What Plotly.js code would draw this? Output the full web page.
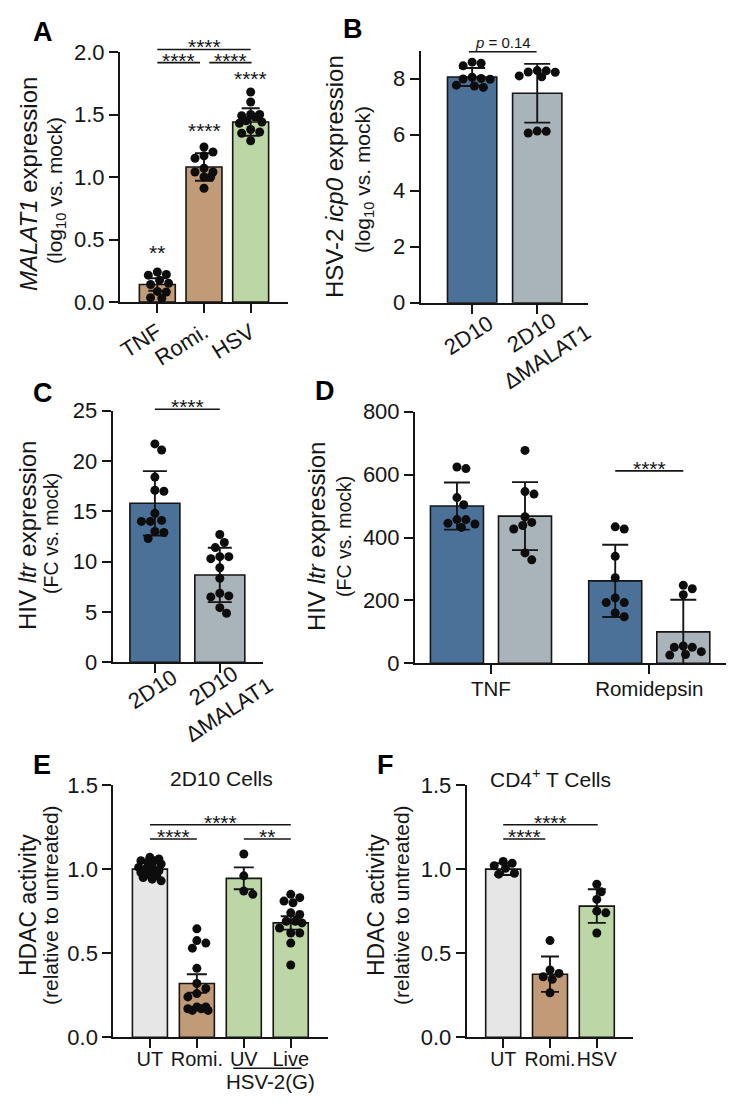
<!DOCTYPE html>
<html>
<head>
<meta charset="utf-8">
<script src="https://cdn.plot.ly/plotly-3.0.1.min.js"></script>
<style>body{margin:0;background:#fff}</style>
</head>
<body>
<div id="chart" style="width:745px;height:1107px"></div>
<script>
// ---------------- DATA ----------------
// Panel A: MALAT1 expression (log10 vs. mock)
const aCategories = ["TNF", "Romi.", "HSV"];
const aMeans = [0.14, 1.08, 1.44];
const aSD = [0.05, 0.11, 0.11];
const aTNF = [0.22, 0.215, 0.24, 0.175, 0.14, 0.15, 0.085, 0.08, 0.03, 0.035];
const aRomi = [1.20, 1.24, 1.17, 1.15, 1.07, 1.04, 1.04, 1.00, 1.00, 0.91];
const aHSV = [1.68, 1.60, 1.50, 1.50, 1.48, 1.49, 1.44, 1.43, 1.45, 1.38, 1.36, 1.35, 1.29];

// Panel B: HSV-2 icp0 expression
const bCategories = ["2D10", "2D10<br>ΔMALAT1"];
const bMeans = [8.06, 7.48];
const bSD = [0.32, 1.05];
const b2D10 = [8.55, 8.59, 8.46, 8.01, 8.05, 7.99, 7.98, 7.74, 7.77, 7.69];
const bDelta = [8.29, 8.23, 8.10, 8.07, 8.24, 8.28, 6.06, 6.13, 6.12];

// Panel C: HIV ltr expression (FC vs. mock)
const cCategories = ["2D10", "2D10<br>ΔMALAT1"];
const cMeans = [15.8, 8.68];
const cSD = [3.2, 2.7];
const c2D10 = [21.7, 21.1, 18.4, 17.1, 17.0, 14.8, 14.0, 14.1, 14.0, 13.0, 12.9, 12.3];
const cDelta = [12.7, 11.4, 11.9, 10.5, 10.5, 10.3, 9.4, 8.35, 6.86, 6.6, 6.5, 4.87, 5.43];

// Panel D: HIV ltr expression by treatment
const dGroups = ["TNF", "Romidepsin"];
const d2D10Means = [500, 262];
const d2D10SD = [75, 115];
const dDeltaMeans = [468, 100];
const dDeltaSD = [108, 102];
const d2D10TNF = [619, 624, 527, 504, 443, 457, 445, 457, 432];
const d2D10Romi = [434, 427, 340, 272, 208, 193, 193, 160, 148];
const dDeltaTNF = [677, 546, 538, 466, 448, 438, 427, 329, 351];
const dDeltaRomi = [248, 237, 218, 51, 51, 55, 37, 28, 26];

// Panel E: HDAC activity, 2D10 cells
const eCategories = ["UT", "Romi.", "UV", "Live"];
const eMeans = [1.0, 0.32, 0.945, 0.68];
const eSEM = [0.012, 0.055, 0.065, 0.04];
const eUT = [1.07, 1.06, 1.05, 1.05, 1.04, 1.03, 1.02, 1.01, 1.00, 0.99, 0.98, 0.98, 0.97, 0.96, 0.95, 0.94, 0.93];
const eRomi = [0.645, 0.575, 0.56, 0.53, 0.41, 0.32, 0.29, 0.26, 0.24, 0.18, 0.17, 0.17, 0.16, 0.16, 0.18];
const eUV = [1.09, 0.96, 0.85, 0.87];
const eLive = [0.85, 0.83, 0.81, 0.80, 0.74, 0.73, 0.69, 0.68, 0.69, 0.65, 0.62, 0.62, 0.56, 0.43];

// Panel F: HDAC activity, CD4+ T cells
const fCategories = ["UT", "Romi.", "HSV"];
const fMeans = [1.0, 0.375, 0.78];
const fSD = [0.035, 0.105, 0.10];
const fUT = [1.035, 1.045, 1.02, 1.005, 0.97, 0.975];
const fRomi = [0.575, 0.38, 0.40, 0.345, 0.36, 0.265];
const fHSV = [0.91, 0.865, 0.82, 0.75, 0.74, 0.62];

// ---------------- STYLE / LAYOUT ----------------
const W = 745, H = 1107;
const FONT = "Liberation Sans, Arial, Helvetica, sans-serif";
const INK = "#151515";
const BROWN = "#C19A78", GREEN = "#BCD6A6", BLUE = "#4B7199", GRAY = "#A8B3BA", LGRAY = "#E6E6E6";

// pixel boxes of each plotting area
const P = {
  A: {id: "", x0: 120, x1: 288, yT: 52, yB: 302, xr: [-0.8, 2.8], yr: [0, 2], bw: 0.77},
  B: {id: "2", x0: 420.7, x1: 588, yT: 50.7, yB: 302.7, xr: [-0.79, 1.78], yr: [0, 9], bw: 0.757},
  C: {id: "3", x0: 112.7, x1: 263.3, yT: 410.7, yB: 662.3, xr: [-0.65, 1.67], yr: [0, 25], bw: 0.77},
  D: {id: "4", x0: 415, x1: 725.7, yT: 411.7, yB: 663.3, xr: [-0.48, 1.483], yr: [0, 800], bw: 0.335},
  E: {id: "5", x0: 113.3, x1: 328.3, yT: 785, yB: 1037.3, xr: [-0.78, 3.8], yr: [0, 1.5], bw: 0.746},
  F: {id: "6", x0: 466.7, x1: 633.3, yT: 785, yB: 1037.3, xr: [-0.78, 2.78], yr: [0, 1.5], bw: 0.748}
};
const pxPerX = p => (p.x1 - p.x0) / (p.xr[1] - p.xr[0]);
const pxPerY = p => (p.yB - p.yT) / (p.yr[1] - p.yr[0]);
const toPX = (p, v) => p.x0 + (v - p.xr[0]) * pxPerX(p);
const toPY = (p, v) => p.yB - (v - p.yr[0]) * pxPerY(p);
const paperX = px => px / W;
const paperY = py => 1 - py / H;

const DOT = 9;

// deterministic bee-swarm layout (returns x offsets in axis units)
function swarm(vals, p, halfWidthUnits) {
  const sx = pxPerX(p), sy = pxPerY(p);
  const maxHalf = halfWidthUnits * sx - DOT / 2;
  const d = DOT * 0.97;
  const step = DOT / 4;
  const order = vals.map((v, i) => i).sort((a, b) => vals[b] - vals[a]);
  const placed = [];
  const out = new Array(vals.length).fill(0);
  for (const i of order) {
    const y = vals[i] * sy;
    let chosen = null, bestCand = 0, bestDist = -1;
    for (let k = 0; k < 400; k++) {
      const cand = (k % 2 === 1 ? 1 : -1) * Math.ceil(k / 2) * step;
      if (Math.abs(cand) > maxHalf) break;
      let minD = Infinity;
      for (const q of placed) minD = Math.min(minD, Math.hypot(q.x - cand, q.y - y));
      if (minD >= d) { chosen = cand; break; }
      if (minD > bestDist) { bestDist = minD; bestCand = cand; }
    }
    if (chosen === null) chosen = bestCand;
    placed.push({x: chosen, y: y});
    out[i] = chosen / sx;
  }
  return out;
}

const traces = [];
function addBars(p, xs, means, errs, colors, cap) {
  traces.push({
    type: "bar", x: xs, y: means, width: p.bw,
    xaxis: "x" + p.id, yaxis: "y" + p.id,
    marker: {color: colors, line: {color: INK, width: 1.6}},
    error_y: {type: "data", array: errs, visible: true, color: INK, thickness: 1.9, width: cap},
    hoverinfo: "skip", showlegend: false
  });
}
function addDots(p, center, vals) {
  const offs = swarm(vals, p, p.bw / 2);
  traces.push({
    type: "scatter", mode: "markers",
    x: vals.map((v, i) => center + offs[i]), y: vals,
    xaxis: "x" + p.id, yaxis: "y" + p.id,
    marker: {color: "#0d0d0d", size: DOT, line: {width: 0}},
    cliponaxis: false, hoverinfo: "skip", showlegend: false
  });
}
const idx = arr => arr.map((_, i) => i);

// A
addBars(P.A, idx(aCategories), aMeans, aSD, [BROWN, BROWN, GREEN], 9);
[aTNF, aRomi, aHSV].forEach((s, i) => addDots(P.A, i, s));
// B
addBars(P.B, idx(bCategories), bMeans, bSD, [BLUE, GRAY], 13);
[b2D10, bDelta].forEach((s, i) => addDots(P.B, i, s));
// C
addBars(P.C, idx(cCategories), cMeans, cSD, [BLUE, GRAY], 12);
[c2D10, cDelta].forEach((s, i) => addDots(P.C, i, s));
// D (grouped)
const DOFF = 0.215;
const dLeft = idx(dGroups).map(i => i - DOFF), dRight = idx(dGroups).map(i => i + DOFF);
addBars(P.D, dLeft, d2D10Means, d2D10SD, BLUE, 13);
addBars(P.D, dRight, dDeltaMeans, dDeltaSD, GRAY, 13);
addDots(P.D, dLeft[0], d2D10TNF);
addDots(P.D, dLeft[1], d2D10Romi);
addDots(P.D, dRight[0], dDeltaTNF);
addDots(P.D, dRight[1], dDeltaRomi);
// E
addBars(P.E, idx(eCategories), eMeans, eSEM, [LGRAY, BROWN, GREEN, GREEN], 10);
[eUT, eRomi, eUV, eLive].forEach((s, i) => addDots(P.E, i, s));
// F
addBars(P.F, idx(fCategories), fMeans, fSD, [LGRAY, BROWN, GREEN], 9);
[fUT, fRomi, fHSV].forEach((s, i) => addDots(P.F, i, s));

// axes
const layout = {
  width: W, height: H, margin: {l: 0, r: 0, t: 0, b: 0},
  paper_bgcolor: "#fff", plot_bgcolor: "rgba(0,0,0,0)",
  font: {family: FONT, color: INK},
  showlegend: false, barmode: "overlay",
  shapes: [], annotations: []
};
function axes(p, tickvals, ticktext, angle, dtick, fmt, xsize, standoff) {
  const common = {
    showline: true, linecolor: INK, linewidth: 2, ticks: "outside", ticklen: 9, tickwidth: 2,
    tickcolor: INK, showgrid: false, zeroline: false, fixedrange: true,
    tickfont: {family: FONT, size: 22, color: INK}
  };
  layout["xaxis" + p.id] = Object.assign({}, common, {
    domain: [paperX(p.x0), paperX(p.x1)], range: p.xr, anchor: "y" + p.id,
    tickmode: "array", tickvals: tickvals, ticktext: ticktext || tickvals.map(String),
    showticklabels: !!ticktext, tickangle: angle,
    tickfont: {family: FONT, size: xsize, color: INK}, ticklabelstandoff: standoff
  });
  layout["yaxis" + p.id] = Object.assign({}, common, {
    domain: [paperY(p.yB), paperY(p.yT)], range: p.yr, anchor: "x" + p.id,
    tick0: 0, dtick: dtick, tickformat: fmt
  });
}
axes(P.A, idx(aCategories), aCategories, -32, 0.5, ".1f", 22, -2);
axes(P.B, idx(bCategories), null, 0, 2, "d", 22, 0);
axes(P.C, idx(cCategories), null, 0, 5, "d", 22, 0);
axes(P.D, idx(dGroups), dGroups, 0, 200, "d", 20.5, -3);
axes(P.E, idx(eCategories), eCategories, 0, 0.5, ".1f", 20, -6);
axes(P.F, idx(fCategories), fCategories, 0, 0.5, ".1f", 19.5, -6);

// helpers for annotations
function line(p, xa, xb, yv) {
  layout.shapes.push({type: "line", xref: "paper", yref: "paper",
    x0: paperX(toPX(p, xa)), x1: paperX(toPX(p, xb)), y0: paperY(toPY(p, yv)), y1: paperY(toPY(p, yv)),
    line: {color: INK, width: 1.6}});
}
function stars(p, xv, yv, txt, size) {
  layout.annotations.push({xref: "paper", yref: "paper", x: paperX(toPX(p, xv)), y: paperY(toPY(p, yv)),
    text: txt, showarrow: false, xanchor: "center", yanchor: "bottom", yshift: -11,
    font: {family: FONT, size: size || 21, color: INK}});
}
function bracket(p, xa, xb, yv, txt) { line(p, xa, xb, yv); stars(p, (xa + xb) / 2, yv, txt); }
function textPx(x, y, txt, size, opts) {
  layout.annotations.push(Object.assign({xref: "paper", yref: "paper", x: paperX(x), y: paperY(y),
    text: txt, showarrow: false, xanchor: "center", yanchor: "middle",
    font: {family: FONT, size: size, color: INK}}, opts || {}));
}

// A brackets
bracket(P.A, 0, 2, 2.02, "****");
bracket(P.A, 0, 0.914, 1.915, "****");
bracket(P.A, 1.113, 2.02, 1.915, "****");
stars(P.A, 0, (302 - 255) / pxPerY(P.A), "**");
stars(P.A, 1, (302 - 133.3) / pxPerY(P.A), "****");
stars(P.A, 2, (302 - 81) / pxPerY(P.A), "****");
// B
line(P.B, -0.05, 0.99, 8.96);
layout.annotations.push({xref: "paper", yref: "paper", x: paperX(toPX(P.B, 0.48)), y: paperY(toPY(P.B, 8.96)),
  text: "<i>p</i> = 0.14", showarrow: false, xanchor: "center", yanchor: "bottom", yshift: -1,
  font: {family: FONT, size: 15, color: INK}});
// C
bracket(P.C, 0, 1, 25.15, "****");
// D
bracket(P.D, 1 - DOFF, 1 + DOFF, 612, "****");
// E
bracket(P.E, 0, 3, 1.264, "****");
bracket(P.E, 0, 1, 1.179, "****");
bracket(P.E, 2, 3, 1.179, "**");
// F
bracket(P.F, 0, 2.02, 1.264, "****");
bracket(P.F, 0, 0.9, 1.179, "****");

// rotated category labels for B and C (centered two-line labels)
const ROTX = {textangle: -33};
textPx(468, 335, bCategories[0], 22, ROTX);
textPx(539, 345, bCategories[1], 22, ROTX);
textPx(152, 689, cCategories[0], 22, ROTX);
textPx(221, 698, cCategories[1], 22, ROTX);

// E group label
layout.shapes.push({type: "line", xref: "paper", yref: "paper",
  x0: paperX(233.3), x1: paperX(301.7), y0: paperY(1068.3), y1: paperY(1068.3), line: {color: INK, width: 1.6}});
textPx(270, 1081, "HSV-2(G)", 20.5);

// panel titles
textPx(221.7, 778, "2D10 Cells", 21);
textPx(550, 778, "CD4<sup>+</sup> T Cells", 21);

// panel letters
const BOLD = {family: "Liberation Sans, Arial, sans-serif", size: 27, color: "#000", weight: "bold"};
[["A", 43, 32], ["B", 353, 29], ["C", 43, 393], ["D", 325, 391], ["E", 42, 765], ["F", 385, 765]].forEach(l => {
  layout.annotations.push({xref: "paper", yref: "paper", x: paperX(l[1]), y: paperY(l[2]),
    text: l[0], showarrow: false, xanchor: "center", yanchor: "middle", font: BOLD});
});

// y-axis titles (two lines each)
const ROT = {textangle: -90};
textPx(29, 184, "<i>MALAT1</i> expression", 24, ROT);
textPx(56, 190, "(log<sub>10</sub> vs. mock)", 21, ROT);
textPx(335, 177, "HSV-2 <i>icp0</i> expression", 24, ROT);
textPx(364, 180, "(log<sub>10</sub> vs. mock)", 21, ROT);
textPx(27, 536, "HIV <i>ltr</i> expression", 24, ROT);
textPx(51, 534, "(FC vs. mock)", 19.5, ROT);
textPx(316, 537, "HIV <i>ltr</i> expression", 24, ROT);
textPx(344, 537, "(FC vs. mock)", 19.5, ROT);
textPx(28, 905, "HDAC activity", 23, ROT);
textPx(50, 905, "(relative to untreated)", 21, ROT);
textPx(376, 905, "HDAC activity", 23, ROT);
textPx(401, 905, "(relative to untreated)", 21, ROT);

Plotly.newPlot("chart", traces, layout, {staticPlot: true, displayModeBar: false});
</script>
</body>
</html>
